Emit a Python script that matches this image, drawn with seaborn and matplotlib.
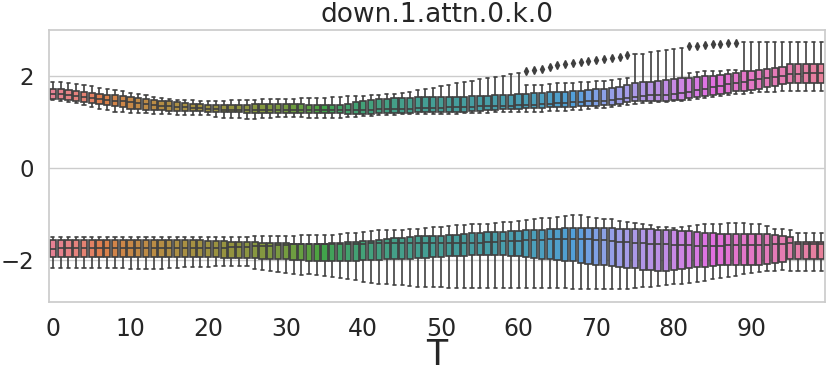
import numpy as np
import pandas as pd
import matplotlib
matplotlib.use("Agg")
import matplotlib.pyplot as plt
import seaborn as sns

# Valores (T = 0..99), grupo superior y grupo inferior
T = list(range(100))

up_lo = [1.48, 1.47, 1.44, 1.41, 1.37, 1.33, 1.29, 1.26, 1.23, 1.21,
         1.20, 1.19, 1.19, 1.18, 1.18, 1.17, 1.16, 1.16, 1.15, 1.15,
         1.15, 1.12, 1.10, 1.09, 1.08, 1.07, 1.07, 1.08, 1.10, 1.11,
         1.12, 1.12, 1.11, 1.10, 1.10, 1.10, 1.10, 1.10, 1.11, 1.12,
         1.13, 1.14, 1.15, 1.16, 1.16, 1.17, 1.17, 1.17, 1.17, 1.17,
         1.17, 1.18, 1.18, 1.19, 1.19, 1.20, 1.20, 1.21, 1.21, 1.22,
         1.22, 1.23, 1.23, 1.23, 1.24, 1.24, 1.25, 1.26, 1.27, 1.29,
         1.30, 1.31, 1.33, 1.35, 1.37, 1.40, 1.41, 1.42, 1.43, 1.44,
         1.45, 1.46, 1.48, 1.50, 1.52, 1.54, 1.56, 1.58, 1.61, 1.62,
         1.64, 1.65, 1.66, 1.66, 1.67, 1.67, 1.67, 1.67, 1.67, 1.67]
up_q1 = [1.51, 1.50, 1.48, 1.46, 1.44, 1.42, 1.40, 1.37, 1.35, 1.32,
         1.29, 1.28, 1.27, 1.26, 1.26, 1.25, 1.25, 1.24, 1.24, 1.24,
         1.23, 1.23, 1.22, 1.21, 1.21, 1.20, 1.20, 1.20, 1.20, 1.20,
         1.20, 1.20, 1.20, 1.20, 1.20, 1.20, 1.20, 1.19, 1.18, 1.17,
         1.17, 1.18, 1.19, 1.19, 1.20, 1.20, 1.20, 1.21, 1.21, 1.21,
         1.21, 1.22, 1.22, 1.23, 1.24, 1.25, 1.26, 1.27, 1.28, 1.29,
         1.29, 1.31, 1.30, 1.31, 1.32, 1.33, 1.33, 1.33, 1.34, 1.35,
         1.36, 1.37, 1.38, 1.40, 1.43, 1.45, 1.45, 1.45, 1.46, 1.47,
         1.48, 1.49, 1.53, 1.55, 1.57, 1.59, 1.61, 1.63, 1.67, 1.68,
         1.70, 1.73, 1.76, 1.79, 1.82, 1.85, 1.85, 1.85, 1.85, 1.85]
up_med = [1.62, 1.61, 1.59, 1.57, 1.55, 1.53, 1.51, 1.49, 1.47, 1.45,
          1.43, 1.41, 1.39, 1.37, 1.36, 1.35, 1.33, 1.32, 1.31, 1.30,
          1.29, 1.28, 1.27, 1.27, 1.26, 1.26, 1.26, 1.26, 1.26, 1.26,
          1.26, 1.26, 1.26, 1.26, 1.26, 1.26, 1.26, 1.26, 1.26, 1.26,
          1.27, 1.27, 1.28, 1.28, 1.28, 1.28, 1.29, 1.30, 1.30, 1.31,
          1.31, 1.32, 1.32, 1.33, 1.33, 1.34, 1.35, 1.35, 1.36, 1.36,
          1.37, 1.38, 1.38, 1.39, 1.40, 1.41, 1.42, 1.43, 1.44, 1.45,
          1.46, 1.47, 1.48, 1.50, 1.52, 1.54, 1.56, 1.58, 1.59, 1.60,
          1.62, 1.64, 1.66, 1.70, 1.73, 1.76, 1.79, 1.82, 1.85, 1.88,
          1.91, 1.94, 1.96, 1.99, 2.01, 2.04, 2.05, 2.06, 2.06, 2.06]
up_q3 = [1.72, 1.71, 1.70, 1.68, 1.66, 1.64, 1.62, 1.60, 1.58, 1.57,
         1.55, 1.52, 1.50, 1.48, 1.47, 1.46, 1.44, 1.42, 1.40, 1.39,
         1.38, 1.38, 1.38, 1.38, 1.38, 1.38, 1.39, 1.39, 1.40, 1.40,
         1.40, 1.40, 1.39, 1.38, 1.38, 1.37, 1.37, 1.38, 1.40, 1.43,
         1.46, 1.48, 1.50, 1.51, 1.52, 1.53, 1.53, 1.54, 1.54, 1.54,
         1.54, 1.55, 1.55, 1.55, 1.56, 1.56, 1.57, 1.58, 1.59, 1.60,
         1.62, 1.62, 1.63, 1.64, 1.65, 1.66, 1.66, 1.67, 1.68, 1.70,
         1.72, 1.73, 1.75, 1.77, 1.80, 1.86, 1.87, 1.88, 1.90, 1.92,
         1.93, 1.95, 1.96, 1.98, 2.00, 2.01, 2.03, 2.05, 2.07, 2.11,
         2.12, 2.14, 2.16, 2.18, 2.20, 2.26, 2.27, 2.27, 2.27, 2.27]
up_hi = [1.88, 1.87, 1.85, 1.83, 1.81, 1.78, 1.75, 1.73, 1.70, 1.67,
         1.64, 1.61, 1.58, 1.55, 1.52, 1.50, 1.49, 1.48, 1.48, 1.47,
         1.47, 1.47, 1.47, 1.48, 1.48, 1.49, 1.49, 1.50, 1.50, 1.51,
         1.51, 1.51, 1.52, 1.52, 1.53, 1.53, 1.54, 1.55, 1.56, 1.56,
         1.57, 1.58, 1.60, 1.61, 1.62, 1.64, 1.66, 1.69, 1.72, 1.75,
         1.78, 1.81, 1.84, 1.87, 1.90, 1.93, 1.96, 1.99, 2.01, 2.04,
         2.07, 1.80, 1.80, 1.81, 1.82, 1.84, 1.85, 1.86, 1.87, 1.88,
         1.89, 1.90, 1.92, 1.94, 1.96, 2.47, 2.49, 2.52, 2.55, 2.57,
         2.59, 2.62, 2.07, 2.09, 2.10, 2.11, 2.12, 2.13, 2.14, 2.73,
         2.74, 2.74, 2.74, 2.74, 2.74, 2.74, 2.74, 2.74, 2.74, 2.74]
up_flier_t = [61, 62, 63, 64, 65, 66, 67, 68, 69, 70, 71, 72, 73, 74,
              82, 83, 84, 85, 86, 87, 88]
up_flier = [2.11, 2.14, 2.16, 2.20, 2.24, 2.27, 2.29, 2.30, 2.32, 2.35, 2.37, 2.40, 2.42, 2.45,
            2.65, 2.66, 2.67, 2.69, 2.70, 2.71, 2.72]

low_lo = [-2.16, -2.16, -2.16, -2.16, -2.16, -2.16, -2.16, -2.16, -2.16, -2.16,
          -2.18, -2.18, -2.18, -2.18, -2.18, -2.17, -2.16, -2.15, -2.15, -2.14,
          -2.14, -2.13, -2.12, -2.12, -2.12, -2.13, -2.18, -2.20, -2.23, -2.25,
          -2.27, -2.30, -2.32, -2.30, -2.32, -2.33, -2.35, -2.38, -2.41, -2.43,
          -2.46, -2.48, -2.51, -2.52, -2.53, -2.54, -2.56, -2.57, -2.58, -2.58,
          -2.58, -2.59, -2.59, -2.59, -2.59, -2.59, -2.59, -2.59, -2.59, -2.59,
          -2.59, -2.59, -2.59, -2.59, -2.59, -2.59, -2.60, -2.61, -2.61, -2.61,
          -2.61, -2.61, -2.61, -2.61, -2.61, -2.59, -2.58, -2.57, -2.56, -2.54,
          -2.52, -2.51, -2.49, -2.47, -2.45, -2.41, -2.39, -2.36, -2.34, -2.30,
          -2.28, -2.25, -2.23, -2.22, -2.21, -2.23, -2.23, -2.23, -2.23, -2.23]
low_q1 = [-1.93, -1.93, -1.93, -1.93, -1.93, -1.93, -1.93, -1.93, -1.93, -1.93,
          -1.93, -1.93, -1.93, -1.93, -1.93, -1.93, -1.93, -1.93, -1.93, -1.93,
          -1.93, -1.93, -1.94, -1.94, -1.94, -1.95, -1.95, -1.96, -1.97, -1.97,
          -1.98, -1.99, -2.00, -2.01, -2.01, -2.01, -2.01, -2.01, -2.01, -2.01,
          -2.00, -2.00, -1.99, -1.98, -1.98, -1.96, -1.96, -1.94, -1.94, -1.93,
          -1.92, -1.91, -1.91, -1.90, -1.89, -1.89, -1.89, -1.89, -1.89, -1.90,
          -1.91, -1.92, -1.94, -1.96, -1.98, -2.00, -2.01, -2.02, -2.05, -2.07,
          -2.09, -2.11, -2.12, -2.14, -2.16, -2.17, -2.20, -2.21, -2.22, -2.22,
          -2.20, -2.19, -2.16, -2.15, -2.14, -2.12, -2.11, -2.11, -2.10, -2.09,
          -2.09, -2.09, -2.07, -2.05, -2.03, -1.96, -1.98, -1.98, -1.98, -1.98]
low_med = [-1.75, -1.73, -1.73, -1.73, -1.73, -1.73, -1.73, -1.73, -1.73, -1.73,
           -1.73, -1.73, -1.73, -1.73, -1.73, -1.73, -1.73, -1.73, -1.73, -1.73,
           -1.73, -1.73, -1.73, -1.71, -1.70, -1.70, -1.69, -1.68, -1.68, -1.67,
           -1.66, -1.65, -1.65, -1.65, -1.65, -1.65, -1.64, -1.64, -1.64, -1.64,
           -1.64, -1.63, -1.63, -1.63, -1.63, -1.63, -1.63, -1.62, -1.62, -1.62,
           -1.62, -1.62, -1.62, -1.62, -1.62, -1.62, -1.61, -1.60, -1.58, -1.57,
           -1.57, -1.56, -1.55, -1.55, -1.54, -1.53, -1.53, -1.53, -1.53, -1.54,
           -1.55, -1.56, -1.57, -1.59, -1.60, -1.62, -1.63, -1.64, -1.65, -1.65,
           -1.66, -1.67, -1.67, -1.68, -1.68, -1.68, -1.68, -1.67, -1.67, -1.67,
           -1.67, -1.67, -1.66, -1.65, -1.64, -1.62, -1.64, -1.64, -1.64, -1.64]
low_q3 = [-1.55, -1.55, -1.55, -1.55, -1.55, -1.55, -1.55, -1.55, -1.55, -1.55,
          -1.55, -1.55, -1.55, -1.55, -1.55, -1.55, -1.55, -1.55, -1.55, -1.55,
          -1.57, -1.57, -1.58, -1.59, -1.60, -1.60, -1.61, -1.62, -1.62, -1.63,
          -1.63, -1.64, -1.64, -1.64, -1.64, -1.64, -1.63, -1.62, -1.60, -1.60,
          -1.58, -1.57, -1.55, -1.53, -1.52, -1.51, -1.49, -1.48, -1.47, -1.47,
          -1.46, -1.45, -1.44, -1.42, -1.41, -1.40, -1.39, -1.39, -1.38, -1.37,
          -1.36, -1.35, -1.34, -1.33, -1.31, -1.31, -1.29, -1.29, -1.29, -1.29,
          -1.29, -1.30, -1.30, -1.31, -1.31, -1.31, -1.32, -1.32, -1.33, -1.34,
          -1.35, -1.36, -1.37, -1.39, -1.40, -1.41, -1.42, -1.42, -1.42, -1.42,
          -1.42, -1.42, -1.43, -1.45, -1.47, -1.49, -1.59, -1.59, -1.59, -1.59]
low_hi = [-1.49, -1.49, -1.49, -1.49, -1.49, -1.49, -1.49, -1.49, -1.49, -1.49,
          -1.49, -1.49, -1.49, -1.49, -1.49, -1.49, -1.49, -1.49, -1.49, -1.49,
          -1.49, -1.49, -1.49, -1.49, -1.49, -1.49, -1.48, -1.48, -1.47, -1.47,
          -1.46, -1.46, -1.45, -1.45, -1.45, -1.44, -1.44, -1.42, -1.41, -1.40,
          -1.39, -1.36, -1.35, -1.34, -1.33, -1.33, -1.31, -1.31, -1.29, -1.28,
          -1.27, -1.26, -1.24, -1.23, -1.22, -1.21, -1.20, -1.18, -1.17, -1.16,
          -1.15, -1.13, -1.11, -1.09, -1.07, -1.06, -1.04, -1.02, -1.02, -1.05,
          -1.07, -1.10, -1.11, -1.15, -1.17, -1.18, -1.22, -1.24, -1.27, -1.28,
          -1.29, -1.28, -1.26, -1.23, -1.22, -1.21, -1.20, -1.18, -1.18, -1.18,
          -1.20, -1.22, -1.26, -1.31, -1.31, -1.33, -1.40, -1.40, -1.40, -1.40]

xtick_pos = [0, 10, 20, 30, 40, 50, 60, 70, 80, 90]
xtick_labels = ['0', '10', '20', '30', '40', '50', '60', '70', '80', '90']
ytick_pos = [-2, 0, 2]

# Construimos muestras de 9 puntos con los cuartiles exactos de cada caja
flier_map = dict(zip(up_flier_t, up_flier))
filas_up, filas_low = [], []
for i, t in enumerate(T):
    top = flier_map.get(t, up_hi[i])
    for v in [up_lo[i], up_q1[i], up_q1[i], up_med[i], up_med[i], up_q3[i], up_q3[i], up_hi[i], top]:
        filas_up.append((t, v))
    for v in [low_lo[i], low_q1[i], low_q1[i], low_med[i], low_med[i], low_q3[i], low_q3[i], low_hi[i], low_hi[i]]:
        filas_low.append((t, v))
df_up = pd.DataFrame(filas_up, columns=['T', 'valor'])
df_low = pd.DataFrame(filas_low, columns=['T', 'valor'])

sns.set_theme(style="whitegrid")
fig, ax = plt.subplots(figsize=(8.31, 3.75), dpi=100)

paleta = sns.color_palette("husl", len(T))
gris = '#3f3f3f'
for df in [df_up, df_low]:
    sns.boxplot(data=df, x='T', y='valor', hue='T', palette=paleta, legend=False,
                ax=ax, linewidth=1.2, linecolor=gris,
                flierprops={"marker": "d", "markerfacecolor": gris,
                            "markeredgecolor": gris, "markersize": 3.8})

ax.set_xlim(-0.5, 99.5)
ax.set_ylim(-2.9, 3.0)
ax.set_yticks(ytick_pos)
ax.set_xticks(xtick_pos)
ax.set_xticklabels(xtick_labels)
ax.tick_params(axis='y', labelsize=16.5, pad=5)
ax.tick_params(axis='x', labelsize=17, pad=5)
ax.set_xlabel('T', fontsize=25, labelpad=-2)
ax.set_ylabel('')
ax.set_title('down.1.attn.0.k.0', fontsize=19)

plt.subplots_adjust(left=0.059, right=0.993, top=0.92, bottom=0.195)
plt.savefig("out.png", dpi=100)
plt.close()
